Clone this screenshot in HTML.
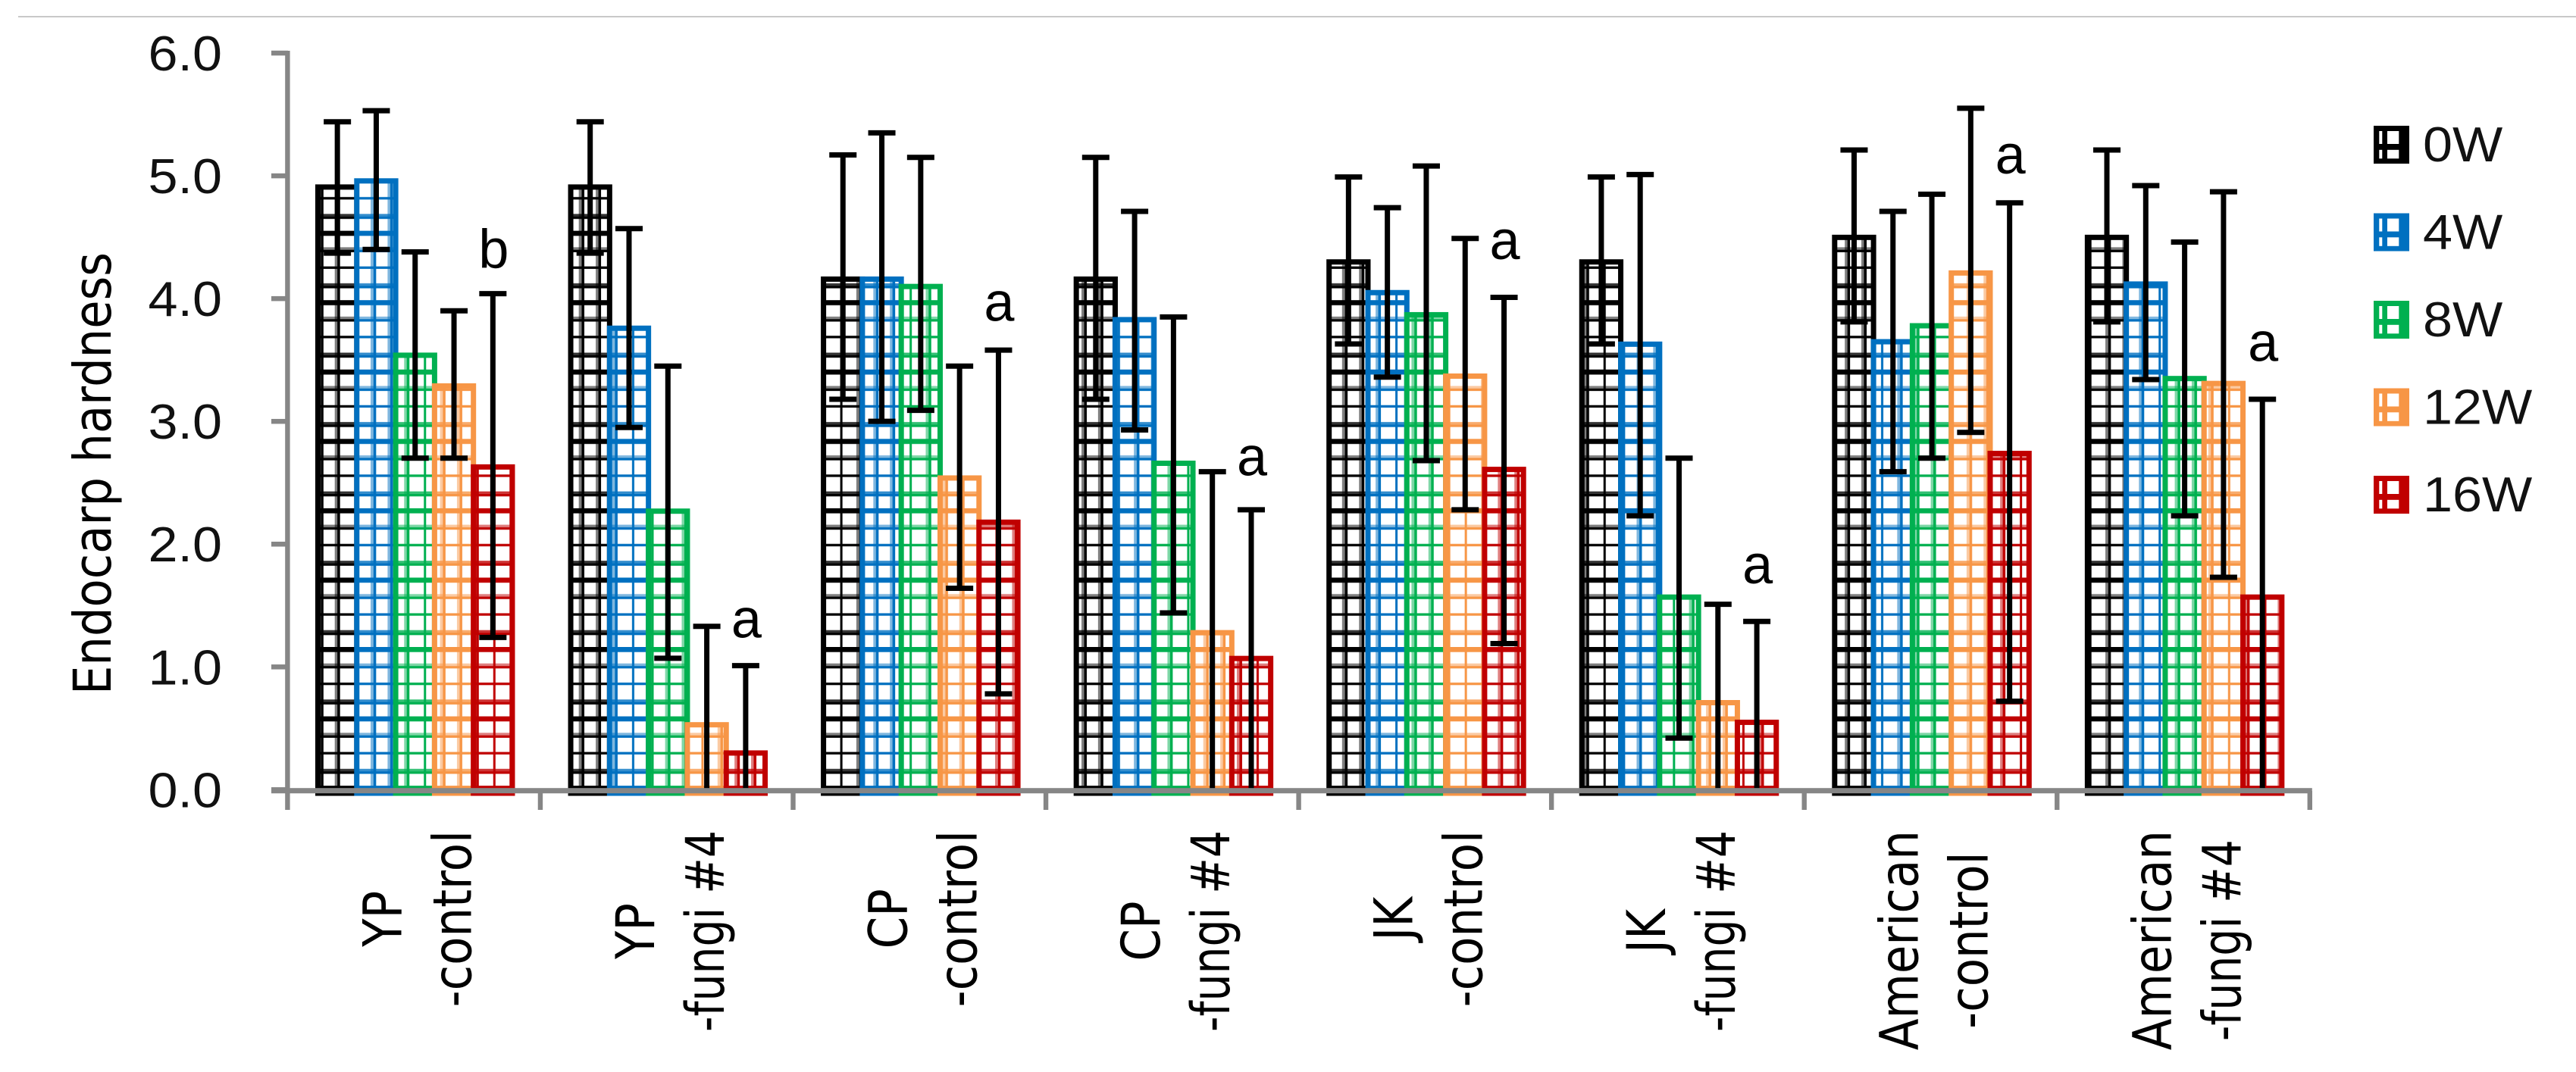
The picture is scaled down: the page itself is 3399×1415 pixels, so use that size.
<!DOCTYPE html>
<html lang="en">
<head>
<meta charset="utf-8">
<title>Endocarp hardness chart</title>
<style>
html,body{margin:0;padding:0;background:#fff;width:3399px;height:1415px;overflow:hidden}
svg{display:block}
text{fill:#000}
.num{font-family:"Liberation Sans",sans-serif;font-size:65px;fill:#111}
.lab{font-family:"DejaVu Sans","Liberation Sans",sans-serif;font-size:61px}
.sig{font-family:"Liberation Sans",sans-serif;font-size:72px}
</style>
</head>
<body>
<svg id="chart" xmlns="http://www.w3.org/2000/svg" width="3399" height="1415" viewBox="0 0 3399 1415">
<rect width="3399" height="1415" fill="#fff"/>
<rect x="24" y="21" width="3375" height="2" fill="#c8c8c8"/>
<defs id="defs"></defs>
<g id="bars"></g>
<g id="errors" clip-path="url(#plotClip)"></g>
<g id="axes"></g>
<g id="labels"></g>
<g id="legend"></g>
</svg>
<script>
const categories = [
  ['YP', '-control'], ['YP', '-fungi #4'], ['CP', '-control'], ['CP', '-fungi #4'],
  ['JK', '-control'], ['JK', '-fungi #4'], ['American', '-control'], ['American', '-fungi #4']
];
const weeks = ['0W', '4W', '8W', '12W', '16W'];
const yTicks = [0, 1, 2, 3, 4, 5, 6];
const mean0W  = [4.93, 4.93, 4.18, 4.18, 4.32, 4.32, 4.52, 4.52];
const mean4W  = [4.98, 3.78, 4.18, 3.85, 4.07, 3.65, 3.67, 4.14];
const mean8W  = [3.56, 2.29, 4.12, 2.68, 3.89, 1.59, 3.80, 3.37];
const mean12W = [3.31, 0.55, 2.56, 1.30, 3.39, 0.73, 4.23, 3.33];
const mean16W = [2.65, 0.32, 2.20, 1.09, 2.63, 0.57, 2.76, 1.59];
const errHigh0W  = [5.44, 5.44, 5.17, 5.15, 4.99, 4.99, 5.21, 5.21];
const errHigh4W  = [5.53, 4.57, 5.35, 4.71, 4.74, 5.01, 4.71, 4.92];
const errHigh8W  = [4.38, 3.45, 5.15, 3.85, 5.08, 2.70, 4.85, 4.46];
const errHigh12W = [3.90, 1.33, 3.45, 2.59, 4.49, 1.51, 5.55, 4.87];
const errHigh16W = [4.04, 1.01, 3.58, 2.28, 4.01, 1.37, 4.78, 3.18];
const errLow0W  = [4.37, 4.37, 3.18, 3.18, 3.63, 3.63, 3.81, 3.81];
const errLow4W  = [4.40, 2.95, 3.00, 2.93, 3.36, 2.23, 2.59, 3.34];
const errLow8W  = [2.70, 1.07, 3.09, 1.44, 2.68, 0.42, 2.70, 2.23];
const errLow12W = [2.70, -0.23, 1.64, -0.05, 2.28, -0.05, 2.91, 1.73];
const errLow16W = [1.24, -0.37, 0.78, -0.10, 1.19, -0.23, 0.72, -0.01];
const sigLetters = ['b', 'a', 'a', 'a', 'a', 'a', 'a', 'a'];
const sigHeights = [4.25, 1.24, 3.82, 2.56, 4.32, 1.68, 5.02, 3.49];

const means = [mean0W, mean4W, mean8W, mean12W, mean16W];
const errHighs = [errHigh0W, errHigh4W, errHigh8W, errHigh12W, errHigh16W];
const errLows = [errLow0W, errLow4W, errLow8W, errLow12W, errLow16W];

const colors = ['#000000', '#0070c0', '#00b050', '#f79646', '#c00000'];
const NS = 'http://www.w3.org/2000/svg';
const AXIS = '#868686';
const Y0 = 1042.3, YK = 162.05, X0 = 379.4, GROUP = 333.55, BAR = 51.3, STROKE = 7, BASE = 1041;

function yScale(v) { return Y0 - v * YK; }
function groupX(g) { return X0 + g * GROUP; }
function barLeft(g, s) { return groupX(g) + 36.6 + s * BAR; }
function barCenter(g, s) { return barLeft(g, s) + (BAR + STROKE) / 2; }
function make(tag, attrs, parent) {
  const el = document.createElementNS(NS, tag);
  for (const k in attrs) el.setAttribute(k, attrs[k]);
  parent.appendChild(el);
  return el;
}

const defs = document.getElementById('defs');
const barsG = document.getElementById('bars');
const errG = document.getElementById('errors');
const axesG = document.getElementById('axes');
const labelsG = document.getElementById('labels');
const legendG = document.getElementById('legend');

const clip = make('clipPath', { id: 'plotClip' }, defs);
make('rect', { x: 0, y: 0, width: 3399, height: BASE }, clip);

/* grid hatch patterns, page aligned */
const PERIOD = 91.56;
const vLines = [[0, 3.4, 0.5], [3.4, 3.6, 1], [26, 3, 1], [47.3, 3.7, 0.5], [51, 3.6, 1], [69.7, 3.5, 0.5], [73.2, 3.5, 1]];
const hLines = [[0, 6.7, 1], [21.7, 3.3, 0.5], [25, 3.3, 1], [47, 3.3, 1], [69.3, 3.3, 0.8], [72.6, 3.3, 1]];
colors.forEach(function (c, i) {
  const p = make('pattern', { id: 'hatch' + i, patternUnits: 'userSpaceOnUse', x: 441.7, y: 854, width: PERIOD, height: PERIOD }, defs);
  make('rect', { width: PERIOD, height: PERIOD, fill: '#fff' }, p);
  vLines.forEach(function (l) { make('rect', { x: l[0], y: 0, width: l[1], height: PERIOD, fill: c, 'fill-opacity': l[2] }, p); });
  hLines.forEach(function (l) { make('rect', { x: 0, y: l[0], width: PERIOD, height: l[1], fill: c, 'fill-opacity': l[2] }, p); });
});

/* bars and error bars */
categories.forEach(function (cat, g) {
  weeks.forEach(function (w, s) {
    const top = yScale(means[s][g]) + STROKE / 2;
    const bar = make('rect', {
      x: barLeft(g, s) + STROKE / 2, y: top, width: BAR, height: Math.max(BASE + 6 - top, 0),
      fill: 'url(#hatch' + s + ')', stroke: colors[s], 'stroke-width': STROKE
    }, barsG);
    
    
  });
});
categories.forEach(function (cat, g) {
  weeks.forEach(function (w, s) {
    const cx = barCenter(g, s), hi = yScale(errHighs[s][g]), lo = yScale(errLows[s][g]);
    const e = make('path', {
      d: 'M' + (cx - 18) + ' ' + hi + 'H' + (cx + 18) + 'M' + cx + ' ' + hi + 'V' + lo + 'M' + (cx - 18) + ' ' + lo + 'H' + (cx + 18),
      stroke: '#000', 'stroke-width': 7, fill: 'none'
    }, errG);
    
    
  });
});

/* axes */
const xEnd = groupX(categories.length);
const yAxis = make('rect', { x: X0 - 3.2, y: yScale(6) - 3, width: 6.4, height: Y0 + 4.7 - yScale(6), fill: AXIS }, axesG);


const xAxis = make('rect', { x: 358, y: 1040.2, width: xEnd - 358 + 3, height: 7, fill: AXIS }, axesG);


yTicks.forEach(function (v) {
  const t = make('rect', { x: 358, y: yScale(v) - 3.2, width: 22, height: 6.5, fill: AXIS }, axesG);
  
  
  const txt = make('text', { class: 'num', 'text-anchor': 'end', transform: 'translate(293 ' + (yScale(v) + 23) + ') scale(1.08 1)' }, labelsG);
  txt.textContent = v.toFixed(1);
  
  
});
for (let g = 0; g <= categories.length; g++) {
  const t = make('rect', { x: groupX(g) - 3.2, y: 1044, width: 6.4, height: 25, fill: AXIS }, axesG);
  
  
}

/* y axis title */
const yTitle = make('text', { class: 'lab', transform: 'translate(146 917) rotate(-90) scale(1 1.12)', textLength: 584, lengthAdjust: 'spacingAndGlyphs' }, labelsG);
yTitle.textContent = 'Endocarp hardness';



/* category labels (two rotated lines, top aligned block, each line centred) */
const FUNGI_LEN = 266;
categories.forEach(function (cat, g) {
  const t1 = make('text', { class: 'lab', 'text-anchor': 'middle' }, labelsG);
  t1.textContent = cat[0];
  
  
  const t2 = make('text', { class: 'lab', 'text-anchor': 'middle' }, labelsG);
  t2.textContent = cat[1];
  
  
  let l2 = t2.getComputedTextLength();
  if (cat[1].indexOf('#') >= 0) {
    l2 = FUNGI_LEN;
    t2.setAttribute('textLength', FUNGI_LEN);
    t2.setAttribute('lengthAdjust', 'spacingAndGlyphs');
  }
  const longest = Math.max(t1.getComputedTextLength(), l2);
  const cy = 1096 + longest / 2;
  t1.setAttribute('transform', 'translate(' + (groupX(g) + 150) + ' ' + cy + ') rotate(-90) scale(1 1.15)');
  t2.setAttribute('transform', 'translate(' + (groupX(g) + 242) + ' ' + cy + ') rotate(-90) scale(1 1.15)');
});

/* significance letters */
sigLetters.forEach(function (letter, g) {
  const t = make('text', { class: 'sig', 'text-anchor': 'middle', x: barCenter(g, 4) + 1, y: yScale(sigHeights[g]) }, labelsG);
  t.textContent = letter;
  
  
});

/* legend */
weeks.forEach(function (w, s) {
  const top = 166 + s * 115.5;
  const g = make('g', {}, legendG);
  
  
  const sw = make('rect', { x: 3132, y: top, width: 47, height: 50, fill: colors[s] }, g);
  
  
  [[7.3, 7, 4, 17], [18, 7, 15.3, 17], [7.3, 31.8, 4, 11.5], [18, 31.8, 15.3, 11.5]].forEach(function (c) {
    make('rect', { x: 3132 + c[0], y: top + c[1], width: c[2], height: c[3], fill: '#fff' }, g);
  });
  const t = make('text', { class: 'num', transform: 'translate(3197 ' + (top + 47) + ') scale(1.08 1)' }, g);
  t.textContent = w;
  
  
});
</script>
</body>
</html>
